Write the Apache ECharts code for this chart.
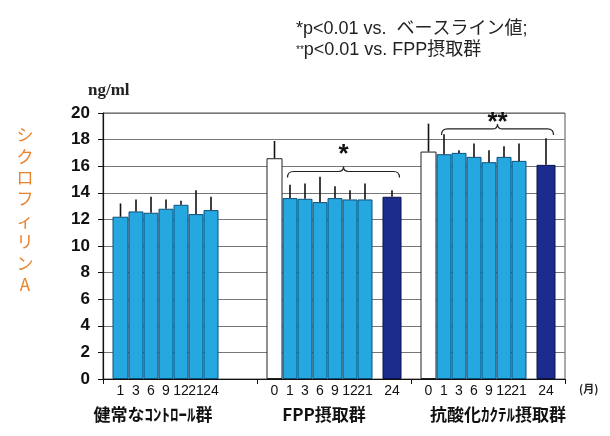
<!DOCTYPE html>
<html>
<head>
<meta charset="utf-8">
<script src="https://cdn.jsdelivr.net/npm/echarts@6/dist/echarts.min.js"></script>
<style>
html,body{margin:0;padding:0;background:#fff;}
#chart{width:610px;height:436px;}
</style>
</head>
<body>
<div id="chart"></div>
<script>
// ---- data ----
const groups = ['健常なｺﾝﾄﾛｰﾙ群', 'FPP摂取群', '抗酸化ｶｸﾃﾙ摂取群'];
const monthLabels = [
  ['1', '3', '6', '9', '12', '21', '24', ''],
  ['0', '1', '3', '6', '9', '12', '21', '24'],
  ['0', '1', '3', '6', '9', '12', '21', '24']
];
const controlMean = [12.2, 12.6, 12.5, 12.8, 13.1, 12.4, 12.7, null];
const controlSD   = [1.0, 0.9, 1.2, 0.7, 0.3, 1.8, 1.0, null];
const fppMean     = [16.6, 13.6, 13.55, 13.3, 13.6, 13.5, 13.5, 13.7];
const fppSD       = [1.3, 1.0, 1.15, 1.9, 0.9, 0.7, 1.2, 0.5];
const antioxMean  = [17.1, 16.9, 17.0, 16.7, 16.3, 16.7, 16.4, 16.1];
const antioxSD    = [2.1, 1.5, 0.2, 1.0, 0.9, 0.8, 1.3, 2.0];
const bracketLevel = [null, 15.6, 18.8];
const starLevel    = [null, 17.2, 19.6];
const bracketMark  = ['', '*', '**'];
const yTicks = [0, 2, 4, 6, 8, 10, 12, 14, 16, 18, 20];

// ---- build ----
const means = [controlMean, fppMean, antioxMean];
const sds = [controlSD, fppSD, antioxSD];
const slotWidths = [16, 15, 15, 15, 15, 15, 15, 19];
const gapWidth = 10;
const totalWidth = slotWidths.reduce((a, b) => a + b, 0) + gapWidth;
const slotLeft = [];
(function () {
  let acc = -totalWidth / 2;
  slotWidths.forEach((w, k) => {
    if (k === 7) acc += gapWidth;
    slotLeft.push(acc);
    acc += w;
  });
})();
const slotCenter = slotLeft.map((l, k) => l + slotWidths[k] / 2);

const LIGHT = '#25A7E0', LIGHT_B = '#0E4F7A';
const NAVY = '#1C2C8C', NAVY_B = '#0A1250';
function styleFor(cat, k) {
  if (k === 0 && cat > 0) return { color: '#ffffff', borderColor: '#222', borderWidth: 1 };
  if (k === 7) return { color: NAVY, borderColor: NAVY_B, borderWidth: 1 };
  return { color: LIGHT, borderColor: LIGHT_B, borderWidth: 1 };
}

const series = [];
for (let k = 0; k < 8; k++) {
  if (k === 7) {
    series.push({ type: 'bar', barWidth: gapWidth, barGap: '0%', silent: true, data: ['-', '-', '-'] });
  }
  series.push({
    type: 'bar',
    barWidth: slotWidths[k],
    barGap: '0%',
    z: 2,
    data: groups.map((g, c) => {
      const v = means[c][k];
      return v == null ? '-' : { value: v, itemStyle: styleFor(c, k) };
    }),
    label: {
      show: true,
      position: 'bottom',
      distance: 5,
      formatter: (p) => monthLabels[p.dataIndex][k],
      fontFamily: '"Liberation Sans Narrow", "Liberation Sans", Arial, sans-serif',
      fontSize: 14,
      color: '#111'
    }
  });
}

const errData = [];
groups.forEach((g, c) => {
  for (let k = 0; k < 8; k++) {
    if (means[c][k] != null) errData.push([c, k, means[c][k], sds[c][k]]);
  }
});
series.push({
  type: 'custom',
  z: 5,
  silent: true,
  encode: { x: 0, y: 2 },
  data: errData,
  renderItem: function (params, api) {
    const c = api.value(0), k = api.value(1), m = api.value(2), s = api.value(3);
    const b = api.coord([c, m]);
    const t = api.coord([c, m + s]);
    const x = b[0] + slotCenter[k];
    return { type: 'line', shape: { x1: x, y1: b[1], x2: x, y2: t[1] }, style: { stroke: '#111', lineWidth: 1.6 } };
  }
});

const brData = [];
groups.forEach((g, c) => { if (bracketLevel[c] != null) brData.push([c, bracketLevel[c], starLevel[c], c]); });
series.push({
  type: 'custom',
  z: 6,
  silent: true,
  encode: { x: 0, y: 1 },
  data: brData,
  renderItem: function (params, api) {
    const c = api.value(0), lv = api.value(1), sv = api.value(2), gi = api.value(3);
    const p = api.coord([c, lv]);
    const sy = api.coord([c, sv])[1];
    const y = p[1];
    const x1 = p[0] + slotLeft[1] + 5;
    const x2 = p[0] + slotLeft[7] + slotWidths[7] - 2;
    const xm = (x1 + x2) / 2;
    const d = `M${x1} ${y + 6} Q${x1} ${y} ${x1 + 6} ${y} L${xm - 5} ${y} Q${xm} ${y} ${xm} ${y - 5} Q${xm} ${y} ${xm + 5} ${y} L${x2 - 6} ${y} Q${x2} ${y} ${x2} ${y + 6}`;
    return {
      type: 'group',
      children: [
        { type: 'path', shape: { pathData: d }, style: { stroke: '#222', lineWidth: 1.2, fill: null } },
        { type: 'text', x: xm, y: sy + 5, style: { text: bracketMark[gi], fontSize: 26, fontWeight: 'bold', fontFamily: '"Liberation Sans", Arial', fill: '#111', align: 'center', verticalAlign: 'middle' } }
      ]
    };
  }
});

const chart = echarts.init(document.getElementById('chart'), null, { renderer: 'canvas' });
chart.setOption({
  animation: false,
  backgroundColor: '#fff',
  grid: { left: 103, right: 45, top: 113, bottom: 57, show: true, borderColor: '#555', borderWidth: 1, backgroundColor: 'transparent' },
  xAxis: {
    type: 'category',
    data: groups.map((g, c) => ({
      value: g,
      textStyle: c === 0 ? { padding: [0, 54, 0, 0] } : c === 1 ? { padding: [0, 20, 0, 0] } : { padding: [0, 0, 0, 20] }
    })),
    axisLine: { lineStyle: { color: '#111', width: 1.2 } },
    axisTick: { show: true, length: 5, lineStyle: { color: '#111' } },
    axisLabel: { interval: 0, hideOverlap: false, margin: 27, fontSize: 17, color: '#111', fontFamily: '"Noto Sans CJK JP", sans-serif', fontWeight: 'bold' }
  },
  yAxis: {
    type: 'value',
    min: yTicks[0],
    max: yTicks[yTicks.length - 1],
    interval: yTicks[1] - yTicks[0],
    axisLine: { show: true, lineStyle: { color: '#111', width: 1.2 } },
    axisTick: { show: true, length: 5, lineStyle: { color: '#111' } },
    axisLabel: { margin: 13, fontSize: 17, fontWeight: 'bold', color: '#111', fontFamily: '"Liberation Sans", Arial, sans-serif' },
    splitLine: { show: true, lineStyle: { color: '#777', width: 1 } }
  },
  graphic: [
    { type: 'text', left: 296, top: 20, style: { text: '*p<0.01 vs.  ベースライン値;', font: '18px "Liberation Sans", "Noto Sans CJK JP", sans-serif', fill: '#222' } },
    { type: 'text', left: 296, top: 41, style: { text: '{s|**}p<0.01 vs. FPP摂取群', font: '18px "Liberation Sans", "Noto Sans CJK JP", sans-serif', fill: '#222', rich: { s: { fontSize: 10, fontFamily: '"Liberation Sans"', fill: '#222' } } } },
    { type: 'text', left: 88, top: 82, style: { text: 'ng/ml', font: 'bold 17px "Liberation Serif", "DejaVu Serif", serif', fill: '#222' } },
    { type: 'text', left: 579, top: 383, style: { text: '(月)', font: 'bold 11px "Noto Sans CJK JP", serif', fill: '#222' } },
    { type: 'text', x: 25, y: 124, style: { text: 'シ\nク\nロ\nフ\nィ\nリ\nン\nA', font: '17px "Noto Sans CJK JP", sans-serif', lineHeight: 21.4, fill: '#E8822A', align: 'center' } }
  ],
  series: series
});
</script>
</body>
</html>
